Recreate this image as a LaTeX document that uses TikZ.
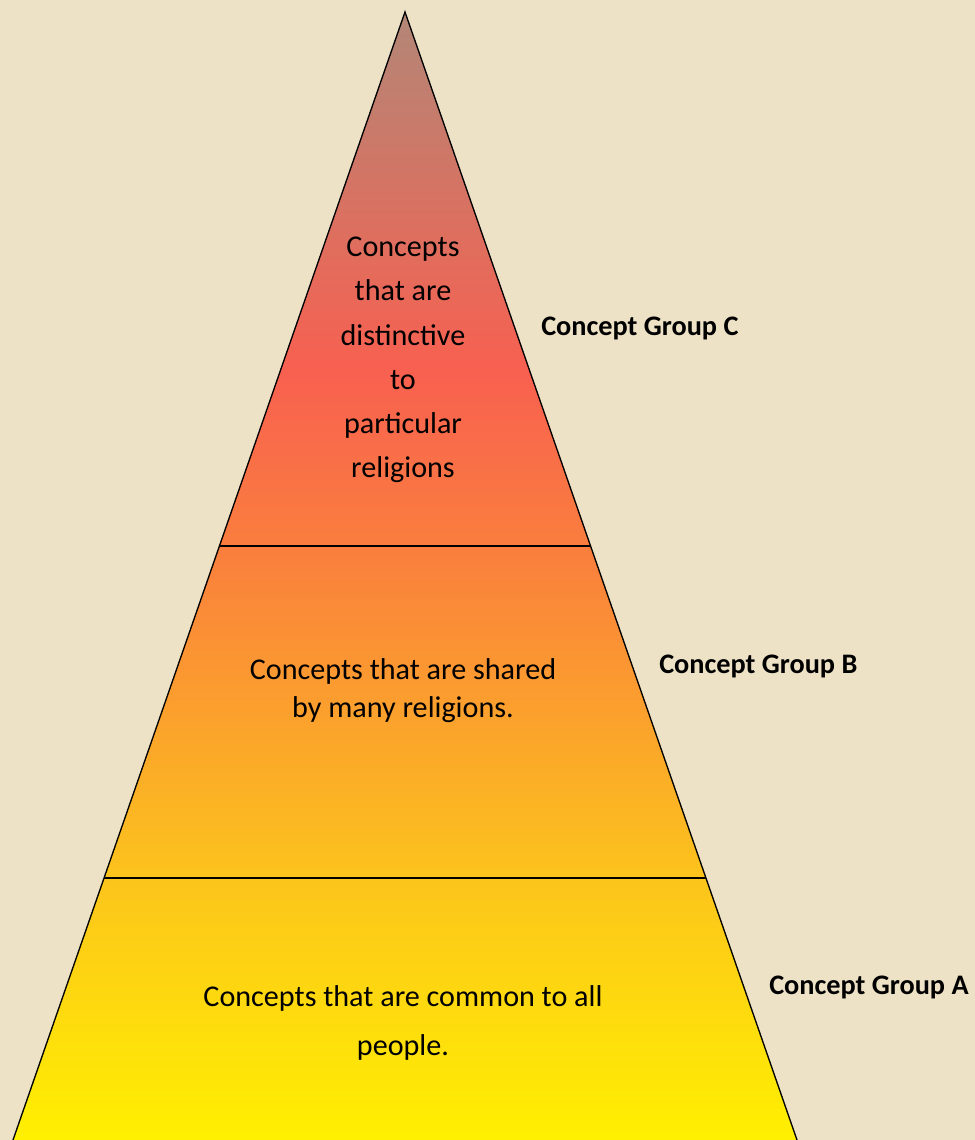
\documentclass[tikz,border=0pt]{standalone}
\usepackage{fontspec}
\setmainfont{Carlito}
\usetikzlibrary{calc}
\definecolor{paper}{RGB}{238,226,198}
\definecolor{tipbrown}{RGB}{176,136,120}
\definecolor{hotred}{RGB}{248,96,80}
\definecolor{deeporange}{RGB}{250,126,62}
\definecolor{midorange}{RGB}{251,162,44}
\definecolor{amber}{RGB}{252,196,28}
\definecolor{lemon}{RGB}{255,240,0}
\tikzstyle{tiertext}=[align=center, inner sep=0pt]
\tikzstyle{grouplabel}=[anchor=west, inner sep=0pt, font=\fontsize{21.2}{25}\selectfont\bfseries]
\tikzstyle{edge}=[line width=1pt, black]
\newcommand{\bandshade}[4]{
	\shade[top color=#1, bottom color=#2] (0,#3) rectangle (975,#4);
}

\begin{document}
\begin{tikzpicture}[x=0.75pt, y=-0.75pt]
	\fill[paper] (0,0) rectangle (975,1140);
	\useasboundingbox (0,0) rectangle (975,1140);
	\coordinate (apex) at (405,12);
	\coordinate (bl) at (13,1140);
	\coordinate (br) at (797,1140);
	\coordinate (cl) at ($(apex)!0.4734!(bl)$);
	\coordinate (cr) at ($(apex)!0.4734!(br)$);
	\coordinate (al) at ($(apex)!0.7677!(bl)$);
	\coordinate (ar) at ($(apex)!0.7677!(br)$);
	\begin{scope}
		\clip (apex) -- (bl) -- (br) -- cycle;
		\bandshade{tipbrown}{hotred}{0}{371}
		\bandshade{hotred}{deeporange}{370}{547}
		\bandshade{deeporange}{midorange}{546}{721}
		\bandshade{midorange}{amber}{720}{879}
		\bandshade{amber}{lemon}{878}{1141}
	\end{scope}
	\draw[edge, line join=miter] (bl) -- (apex) -- (br);
	\draw[edge] (cl) -- (cr);
	\draw[edge] (al) -- (ar);
	\node[tiertext, font=\fontsize{22.6}{33.2}\selectfont] (tierC) at (403,360) {Concepts\\that are\\distinctive\\to\\particular\\religions};
	\node[tiertext, font=\fontsize{22.6}{28.5}\selectfont] (tierB) at (403,691) {Concepts that are shared\\by many religions.};
	\node[tiertext, font=\fontsize{22.6}{36.8}\selectfont] (tierA) at (403,1023) {Concepts that are common to all\\people.};
	\node[grouplabel] (groupC) at (541,328) {Concept Group C};
	\node[grouplabel] (groupB) at (659,666) {Concept Group B};
	\node[grouplabel] (groupA) at (769,987) {Concept Group A};
\end{tikzpicture}
\end{document}
